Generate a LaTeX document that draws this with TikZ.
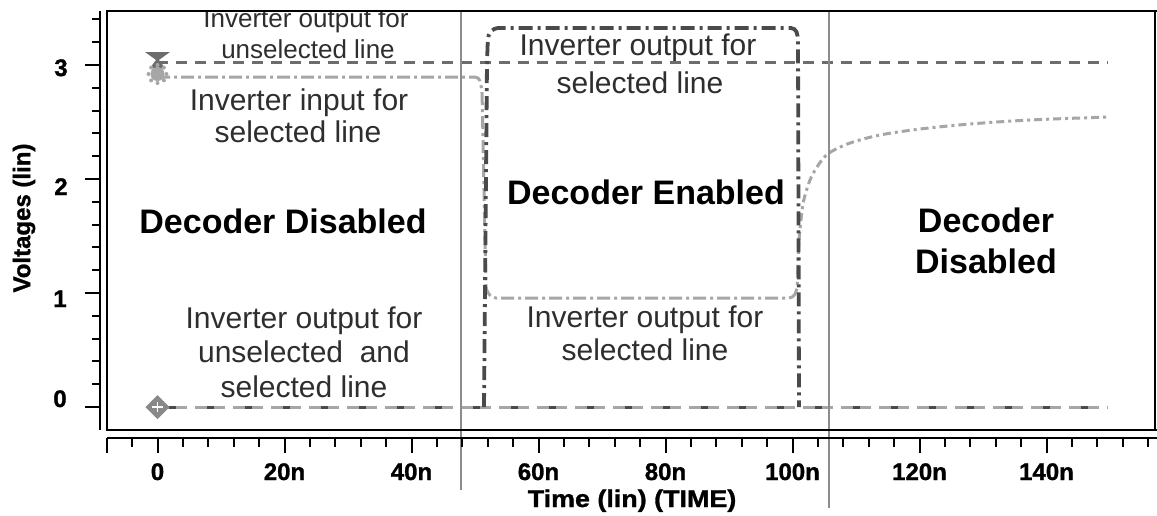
\documentclass[tikz,border=0pt]{standalone}
\usepackage{fontspec}
\setmainfont{Liberation Sans}
\newfontfamily\axisfont[FakeBold=1.2]{Liberation Sans Bold}
\definecolor{notegray}{HTML}{2E2E2E}
\definecolor{cursorgray}{HTML}{8C8C8C}
\definecolor{outgray}{HTML}{6C6C6C}
\definecolor{ingray}{HTML}{A6A6A6}
\definecolor{pulsegray}{HTML}{4A4A4A}
\tikzset{
  note/.style={text=notegray, font=\fontsize{30}{34}\selectfont, anchor=base, inner sep=0pt},
  notesmall/.style={text=notegray, font=\fontsize{26}{30}\selectfont, anchor=base, inner sep=0pt},
  region/.style={text=black, font=\bfseries\fontsize{34}{40}\selectfont, anchor=base, inner sep=0pt},
  ticklab/.style={text=black, font=\axisfont\fontsize{24}{26}\selectfont, anchor=base, inner sep=0pt},
  axisline/.style={black, line width=2pt},
  cursor/.style={cursorgray, line width=2pt},
  unselout/.style={outgray, line width=3pt, dash pattern=on 11pt off 8pt},
  selin/.style={ingray, line width=3pt, dash pattern=on 13pt off 4pt on 3pt off 4pt, rounded corners=4pt},
  selout/.style={pulsegray, line width=3.8pt, dash pattern=on 14pt off 5pt on 3pt off 5pt, rounded corners=4pt},
  zeroline/.style={ingray, line width=3pt, dash pattern=on 30pt off 8pt},
  zerodots/.style={pulsegray, line width=3pt, dash pattern=on 7pt off 31pt, dash phase=-12pt},
}
\begin{document}
\begin{tikzpicture}[x=1pt,y=-1pt]
\useasboundingbox (0,0) rectangle (1157,515);
\fill[white] (0,0) rectangle (1157,515);

% labels inside the plot area, clipped by the frame
\begin{scope}
\clip (107,11) rectangle (1155,430);
\node[notesmall] (uo1) at (306,27) {Inverter output for};
\node[notesmall] (uo2) at (308,58) {unselected line};
\node[note] (si1) at (299,110) {Inverter input for};
\node[note] (si2) at (298,142) {selected line};
\node[note] (so1) at (638,55) {Inverter output for};
\node[note] (so2) at (640,93) {selected line};
\node[region] (dd1) at (283,233) {Decoder Disabled};
\node[region] (de) at (646,204) {Decoder Enabled};
\node[region] (dd2a) at (986,232) {Decoder};
\node[region] (dd2b) at (986,273) {Disabled};
\node[note] (sb1) at (645,327) {Inverter output for};
\node[note] (sb2) at (645,360) {selected line};
\node[note] (ub1) at (304,328) {Inverter output for};
\node[note] (ub2) at (304,362) {unselected\ \ and};
\node[note] (ub3) at (304,397) {selected line};

% waveforms
\draw[unselout] (157,62) -- (1108,62);
\draw[selin] (157,77) -- (479,77) -- (482,90) -- (486,290) -- (492,298) -- (793,298) -- (797,290) -- (799,240);
\draw[ingray, line width=3pt, dash pattern=on 8pt off 4pt on 3pt off 4pt]
  plot[smooth] coordinates {(799,240) (803,204) (810,180) (819,164) (829,153) (850,143) (880,135) (920,129) (970,124) (1030,120) (1108,117)};
\draw[zeroline] (157,407) -- (1108,407);
\draw[zerodots] (157,407) -- (1108,407);
\draw[selout] (484,407) -- (487,62) -- (488,35) -- (494,28) -- (795,28) -- (798,36) -- (799,407);
\end{scope}

% markers at t = 0
\fill[outgray] (145,52) -- (170,52) -- (157.5,61) -- cycle;
\fill[outgray] (157.5,58) -- (165,68) -- (150,68) -- cycle;
\fill[ingray] (157.5,74) circle (7pt);
\foreach \a in {0,45,...,315}
  \fill[ingray] (157.5,74) ++(\a:9pt) circle (2pt);
\fill[outgray!80] (157.5,395) -- (169.5,407) -- (157.5,419) -- (145.5,407) -- cycle;
\draw[white, line width=1.2pt] (152,407) -- (163,407) (157.5,402) -- (157.5,412);

% cursors
\draw[cursor] (461,11) -- (461,490);
\draw[cursor] (829,11) -- (829,508);

% frame and axes
\draw[axisline] (1157,11) -- (107,11) -- (107,430) -- (1157,430);
\draw[axisline] (1155,11) -- (1155,430);
\draw[axisline] (100,11) -- (100,430);
\draw[axisline] (107,438) -- (1157,438);

% y ticks
\foreach \v in {0,0.2,...,3.41} {
  \pgfmathsetmacro{\yy}{407-114*\v}
  \pgfmathsetmacro{\len}{abs(\v-round(\v))<0.01 ? 15 : 8}
  \draw[axisline] (100,\yy) -- (100-\len,\yy);
}
\node[ticklab] (y3) at (61,76) {3};
\node[ticklab] (y2) at (61,195) {2};
\node[ticklab] (y1) at (60,307) {1};
\node[ticklab] (y0) at (60,407) {0};

% x ticks
\foreach \t in {-4,0,...,156} {
  \pgfmathsetmacro{\xx}{157.5+6.35*\t}
  \pgfmathsetmacro{\len}{mod(\t,20)==0 ? 15 : 9}
  \draw[axisline] (\xx,438) -- (\xx,438+\len);
}
\draw[axisline] (107,438) -- (107,453);
\foreach \t/\lab in {0/0,20/20n,40/40n,60/60n,80/80n,100/100n,120/120n,140/140n}
  \node[ticklab] (xl\t) at ({157.5+6.35*\t},480) {\lab};

% axis titles
\node[ticklab, xscale=1.12] (xtitle) at (632,507) {Time (lin) (TIME)};
\node[ticklab, rotate=90, anchor=center] (ytitle) at (24,218) {Voltages (lin)};
\end{tikzpicture}
\end{document}
